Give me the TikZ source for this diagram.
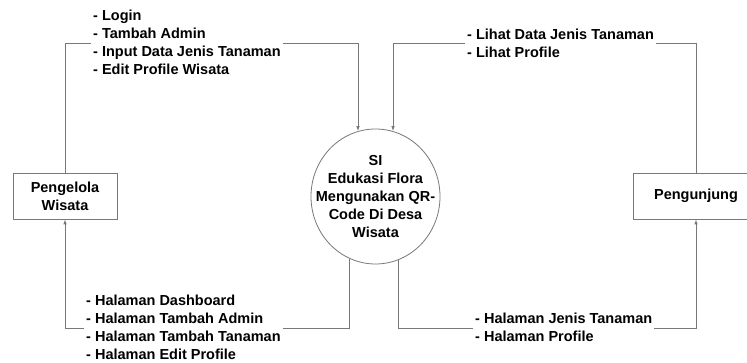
\documentclass[tikz,border=0pt]{standalone}
\usepackage{fontspec}
\setmainfont{Liberation Sans}
\usetikzlibrary{arrows.meta,shapes.geometric}
\definecolor{linegray}{RGB}{120,120,120}
\begin{document}
\begin{tikzpicture}[x=1pt,y=-1pt,
  txt/.style={font=\bfseries\fontsize{14.5}{18}\selectfont},
  flow/.style={draw=linegray,line width=0.8pt,-{Latex[length=5pt,width=3.5pt]}},
  ent/.style={draw=linegray,line width=0.8pt,fill=white,inner sep=0,align=center,txt},
  lbl/.style={fill=white,align=left,anchor=west,inner xsep=2pt,inner ysep=0pt,txt}]
\useasboundingbox (0,0) rectangle (747,363);
\fill[white] (0,0) rectangle (747,363);

% process
\node[ellipse,draw=linegray,line width=0.8pt,minimum width=129,minimum height=135,inner sep=0] (sys) at (375.5,196.5) {};
\node[txt,align=center] (systxt) at (sys.center) {SI\\Edukasi Flora\\Mengunakan QR-\\Code Di Desa\\Wisata};

% entities
\node[ent,minimum width=104,minimum height=46] (pk) at (65,196) {Pengelola\\Wisata};
\node[ent,minimum width=126,minimum height=46] (pg) at (696,196) {Pengunjung};

% corner coordinates
\coordinate (c1) at (pk.north |- 0,43);
\coordinate (c2) at (sys.105 |- 0,43);
\coordinate (c3) at (pg.north |- 0,43);
\coordinate (c4) at (sys.75 |- 0,43);
\coordinate (c5) at (sys.247 |- 0,328);
\coordinate (c6) at (pk.south |- 0,328);
\coordinate (c7) at (sys.290 |- 0,328);
\coordinate (c8) at (pg.south |- 0,328);

% flows
\draw[flow] (pk.north) -- (c1) -- (c2) -- (sys.105);
\draw[flow] (pg.north) -- (c3) -- (c4) -- (sys.75);
\draw[flow] (sys.247) -- (c5) -- (c6) -- (pk.south);
\draw[flow] (sys.290) -- (c7) -- (c8) -- (pg.south);

% labels
\node[lbl] (l1) at (91,42.5) {- Login\\- Tambah Admin\\- Input Data Jenis Tanaman\\- Edit Profile Wisata};
\node[lbl] (l2) at (465,43) {- Lihat Data Jenis Tanaman\\- Lihat Profile};
\node[lbl] (l3) at (84,327.5) {- Halaman Dashboard\\- Halaman Tambah Admin\\- Halaman Tambah Tanaman\\- Halaman Edit Profile};
\node[lbl] (l4) at (473,327.5) {- Halaman Jenis Tanaman\\- Halaman Profile};
\end{tikzpicture}
\end{document}
